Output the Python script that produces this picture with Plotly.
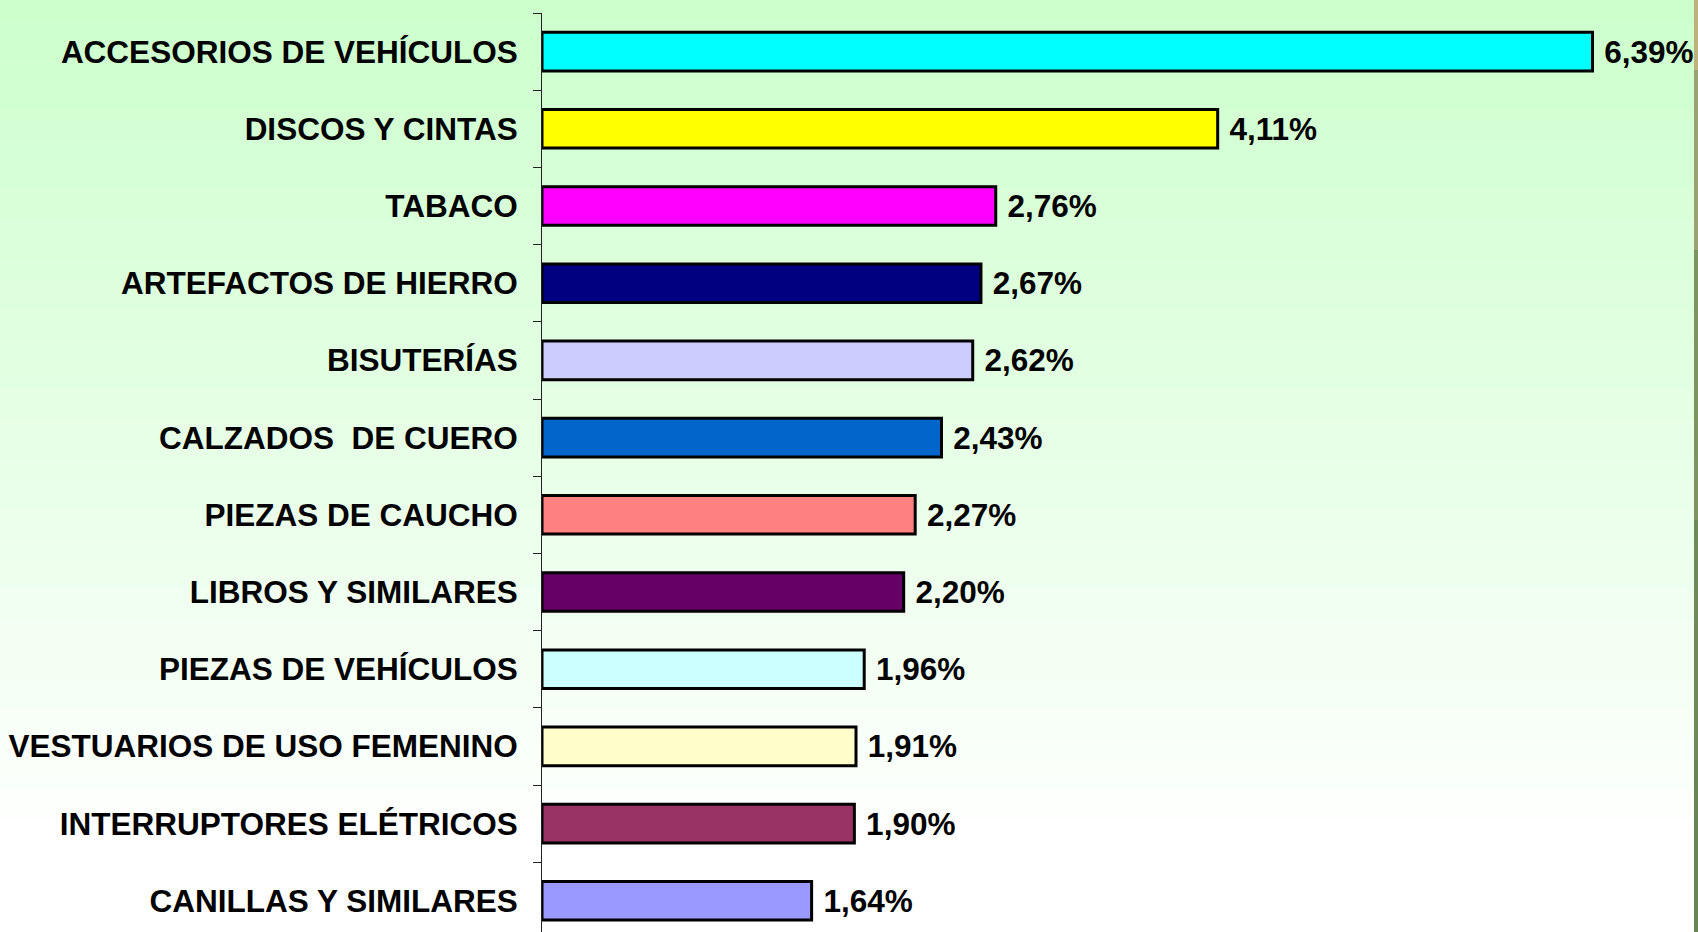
import plotly.graph_objects as go

categories = [
    "ACCESORIOS DE VEHÍCULOS",
    "DISCOS Y CINTAS",
    "TABACO",
    "ARTEFACTOS DE HIERRO",
    "BISUTERÍAS",
    "CALZADOS\u00a0 DE CUERO",
    "PIEZAS DE CAUCHO",
    "LIBROS Y SIMILARES",
    "PIEZAS DE VEHÍCULOS",
    "VESTUARIOS DE USO FEMENINO",
    "INTERRUPTORES ELÉTRICOS",
    "CANILLAS Y SIMILARES",
]
values = [6.39, 4.11, 2.76, 2.67, 2.62, 2.43, 2.27, 2.20, 1.96, 1.91, 1.90, 1.64]
value_labels = ["6,39%", "4,11%", "2,76%", "2,67%", "2,62%", "2,43%",
                "2,27%", "2,20%", "1,96%", "1,91%", "1,90%", "1,64%"]
bar_colors = ["#00FFFF", "#FFFF00", "#FF00FF", "#000080", "#CCCCFF", "#0066CC",
              "#FF8080", "#660066", "#CCFFFF", "#FFFFCC", "#993366", "#9999FF"]

W, H = 1698, 932
ML, MT = 542, 13
PW, PH = W - ML, H - MT

FONT = "Liberation Sans, Arial, Helvetica, sans-serif"

fig = go.Figure()
fig.add_trace(go.Bar(
    y=categories,
    x=values,
    orientation="h",
    width=0.5,
    marker=dict(color=bar_colors, line=dict(color="black", width=3)),
    text=["\u00a0" + t for t in value_labels],
    textposition="outside",
    textfont=dict(family=FONT, size=31.5, color="black", weight="bold"),
    constraintext="none",
    cliponaxis=False,
    hoverinfo="skip",
))

# background gradient (light green at top fading to white)
shapes = []
top_c = (204, 255, 204)
fade_end = 850
step = 10
for py in range(0, fade_end, step):
    t = (py + step / 2) / fade_end
    r = round(top_c[0] + (255 - top_c[0]) * t)
    g = 255
    b = round(top_c[2] + (255 - top_c[2]) * t)
    shapes.append(dict(
        type="rect", xref="paper", yref="paper", layer="below",
        x0=-ML / PW, x1=1.0,
        y0=(H - (py + step)) / PH, y1=(H - py) / PH,
        fillcolor=f"rgb({r},{g},{b})", line=dict(width=0),
    ))
# thin frame strip at right edge
strip = [(0, 70, "#BDB27C"), (70, 250, "#9BA272"), (250, 520, "#7E9460"),
         (520, 760, "#6F8A58"), (760, 932, "#6A8554")]
for y0, y1, c in strip:
    shapes.append(dict(
        type="rect", xref="paper", yref="paper", layer="above",
        x0=(1694 - ML) / PW, x1=1.0,
        y0=(H - y1) / PH, y1=(H - y0) / PH,
        fillcolor=c, line=dict(width=0),
    ))

fig.update_layout(
    width=W, height=H, autosize=False,
    margin=dict(l=ML, r=0, t=MT, b=0, pad=0),
    paper_bgcolor="white",
    plot_bgcolor="rgba(0,0,0,0)",
    showlegend=False,
    shapes=shapes,
    bargap=0.5,
    xaxis=dict(range=[0, PW / 164.4], visible=False, showgrid=False, zeroline=False),
    yaxis=dict(
        type="category",
        categoryorder="array", categoryarray=categories,
        range=[-0.5 + PH / 77.2, -0.5],
        showline=True, linecolor="#222222", linewidth=1,
        ticks="outside", ticklen=8, tickcolor="#222222", tickwidth=1,
        tickson="boundaries",
        showgrid=False, zeroline=False,
        tickfont=dict(family=FONT, size=31.5, color="black", weight="bold"),
        ticklabelstandoff=17,
    ),
)

fig.write_html(
    "out.html",
    config={"displayModeBar": False, "staticPlot": True},
    post_script="document.body.style.margin='0';document.body.style.padding='0';"
                "document.body.style.overflow='hidden';",
)
